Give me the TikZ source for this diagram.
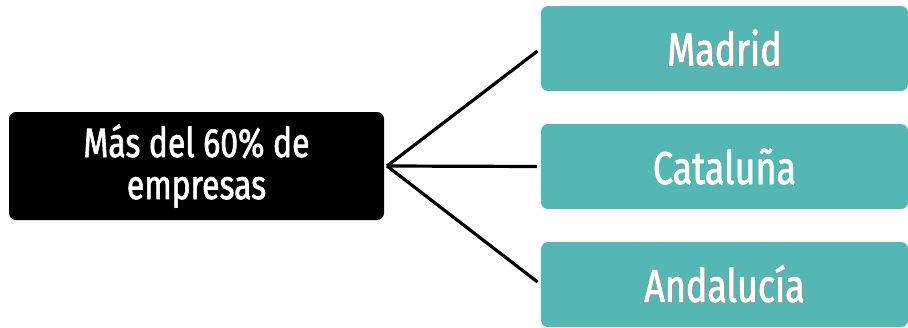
\documentclass[tikz,border=0pt]{standalone}
\usepackage{fontspec}
\setmainfont{Fira Sans}[FakeStretch=0.78, FakeBold=1.5]
\definecolor{verdeazul}{HTML}{55B7B3}
\newcommand{\sombra}[1]{\makebox[0pt][l]{\hspace{1.5pt}\raisebox{-1.5pt}{\color{black!40}#1}}#1}
\begin{document}
\begin{tikzpicture}[x=1pt, y=-1pt,
    caja/.style={rounded corners=7pt, inner sep=0pt, text=white, align=center},
    origen/.style={caja, fill=black, minimum width=375pt, minimum height=108pt,
                   font=\fontsize{41}{42}\selectfont},
    destino/.style={caja, fill=verdeazul, minimum width=367pt, minimum height=85pt,
                    font=\fontsize{46}{48}\selectfont},
    rama/.style={line width=3.2pt, shorten >=4pt}]

    \useasboundingbox (0,0) rectangle (908,327);

    \node[origen] (empresas) at (196.5,166) {M\'as del 60\% de\\empresas};
    \coordinate (nudo) at (387,166);

    \node[destino] (madrid) at (724.5,48.5) {\sombra{Madrid}};
    \node[destino] (cataluna) at (724.5,166.5) {Catalu\~na};
    \node[destino] (andalucia) at (724.5,284.5) {\sombra{Andaluc\'ia}};

    \foreach \dest in {madrid, cataluna, andalucia}
    \draw[rama] (nudo) -- (\dest.west);
\end{tikzpicture}
\end{document}
